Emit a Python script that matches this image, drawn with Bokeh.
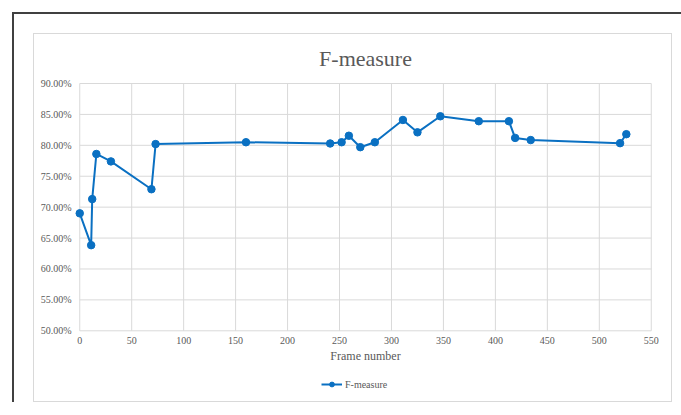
from bokeh.plotting import figure
from bokeh.layouts import column
from bokeh.models import (ColumnDataSource, NumeralTickFormatter, FixedTicker,
                          Legend, LegendItem, Range1d, Title)
from bokeh.embed import file_html
from bokeh.resources import INLINE

# F-measure per frame number
frames = [0, 11, 12, 16, 30, 69, 73, 160, 241, 252, 259, 270, 284, 311, 325, 347,
          384, 413, 419, 434, 520, 526]
f_measure = [0.690, 0.6385, 0.713, 0.786, 0.774, 0.729, 0.802, 0.805, 0.803, 0.805,
             0.8155, 0.797, 0.805, 0.841, 0.821, 0.847, 0.839, 0.839, 0.812, 0.8085,
             0.8035, 0.818]

x_ticks = [0, 50, 100, 150, 200, 250, 300, 350, 400, 450, 500, 550]
y_ticks = [0.50, 0.55, 0.60, 0.65, 0.70, 0.75, 0.80, 0.85, 0.90]

series_name = "F-measure"
x_label = "Frame number"

FONT = "Liberation Serif"
TEXT = "#595959"
GRID = "#d9d9d9"
BLUE = "#0a70c2"

src = ColumnDataSource(data=dict(x=frames, y=f_measure))

# a little room around the value area so the end markers are not cut
p = figure(frame_width=584, frame_height=255, output_backend="svg",
           toolbar_location=None,
           x_range=Range1d(-6, 556), y_range=Range1d(0.49402, 0.90647),
           min_border_left=39, min_border_right=14, min_border_top=44,
           min_border_bottom=34)
p.outline_line_color = None
p.background_fill_color = "white"
p.border_fill_color = "white"
p.grid.visible = False

p.add_layout(Title(text=series_name, text_font=FONT, text_font_size="22px",
                   text_font_style="normal", text_color=TEXT, align="center",
                   standoff=18), "above")

# gridlines over the value area only
x0, x1 = x_ticks[0], x_ticks[-1]
y0, y1 = y_ticks[0], y_ticks[-1]
p.segment(x0=x_ticks, x1=x_ticks, y0=[y0] * len(x_ticks), y1=[y1] * len(x_ticks),
          line_color=GRID, line_width=1)
p.segment(x0=[x0] * len(y_ticks), x1=[x1] * len(y_ticks), y0=y_ticks, y1=y_ticks,
          line_color=GRID, line_width=1)

# axes
p.xaxis.ticker = FixedTicker(ticks=x_ticks)
p.yaxis.ticker = FixedTicker(ticks=y_ticks)
p.yaxis.formatter = NumeralTickFormatter(format="0.00%")
for ax in (p.xaxis[0], p.yaxis[0]):
    ax.axis_line_color = None
    ax.major_tick_line_color = None
    ax.minor_tick_line_color = None
    ax.major_tick_out = 0
    ax.major_tick_in = 0
    ax.minor_tick_out = 0
    ax.major_label_text_font = FONT
    ax.major_label_text_font_size = "10px"
    ax.major_label_text_color = TEXT
    ax.axis_label_text_font = FONT
    ax.axis_label_text_color = TEXT
p.yaxis.major_label_standoff = 2
p.xaxis.major_label_standoff = 2
p.xaxis.axis_label = x_label
p.xaxis.axis_label_text_font_size = "12px"
p.xaxis.axis_label_text_font_style = "normal"
p.xaxis.axis_label_standoff = 2

line_style = dict(line_color=BLUE, line_width=2)
dot_style = dict(size=7.5, fill_color=BLUE, line_color=BLUE)
p.line("x", "y", source=src, **line_style)
p.scatter("x", "y", source=src, **dot_style)

# legend strip under the chart (its frame lines up with the chart's frame)
q = figure(width=637, height=33, output_backend="svg", toolbar_location=None,
           x_axis_type=None, y_axis_type=None,
           x_range=Range1d(-20, -10), y_range=Range1d(0, 1),
           min_border=0, min_border_left=0, min_border_right=0,
           min_border_top=0, min_border_bottom=0)
q.outline_line_color = None
q.grid.visible = False
q.background_fill_color = "white"
q.border_fill_color = "white"
key_line = q.line("x", "y", source=src, **line_style)
key_dot = q.scatter("x", "y", source=src, **dot_style)

legend = Legend(items=[LegendItem(label=series_name, renderers=[key_line, key_dot])],
                location=(248, 11), orientation="horizontal",
                padding=0, margin=0, spacing=0, border_line_color=None,
                background_fill_alpha=0, glyph_width=21, glyph_height=12,
                label_height=12, label_standoff=3,
                label_text_font=FONT, label_text_font_size="10px",
                label_text_color=TEXT)
q.add_layout(legend, "center")

chart_area = column(p, q, spacing=0, styles={"border": "1px solid #d9d9d9"})
page = column(chart_area, styles={"margin-left": "12px", "margin-top": "12px",
                                  "border-left": "2px solid #404040",
                                  "border-top": "2px solid #404040",
                                  "padding-left": "19px", "padding-top": "19px",
                                  "width": "669px"})

open("out.html", "w").write(file_html(page, INLINE))
